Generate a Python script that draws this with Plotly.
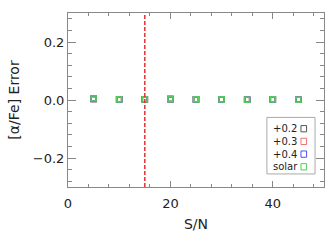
import plotly.graph_objects as go

sn = [5, 10, 15, 20, 25, 30, 35, 40, 45]
err_02 = [0.004, 0.002, 0.002, 0.003, 0.002, 0.002, 0.001, 0.002, 0.001]
err_03 = [0.004, 0.002, 0.002, 0.003, 0.002, 0.002, 0.001, 0.002, 0.001]
err_04 = [0.004, 0.002, 0.002, 0.003, 0.002, 0.002, 0.001, 0.002, 0.001]
err_solar = [0.005, 0.002, 0.002, 0.003, 0.002, 0.002, 0.001, 0.002, 0.001]
series_names = ["+0.2", "+0.3", "+0.4", "solar"]
series_colors = ["#555555", "#f07070", "#5050ee", "#55cc55"]
sn_limit = 15

FONT = "DejaVu Sans"
fig = go.Figure()
for name, vals, col in zip(series_names, [err_02, err_03, err_04, err_solar], series_colors):
    fig.add_trace(go.Scatter(
        x=sn, y=vals, mode="markers", name=name, showlegend=False,
        marker=dict(symbol="square-open", size=5, color=col,
                    line=dict(color=col, width=1.6))))

fig.add_vline(x=sn_limit, line=dict(color="#e83030", width=1.5, dash="4px,2px"))

# legend drawn as box with labels and swatches
lx0, lx1, ly0, ly1 = 0.777, 0.965, 0.075, 0.40
fig.add_shape(type="rect", xref="paper", yref="paper", x0=lx0, x1=lx1, y0=ly0, y1=ly1,
              line=dict(color="#aaaaaa", width=1), fillcolor="white", layer="above")
row_h = 0.073
for i, (name, col) in enumerate(zip(series_names, series_colors)):
    yc = ly1 - 0.065 - row_h * i
    fig.add_annotation(xref="paper", yref="paper", x=lx0 + 0.015, y=yc, text=name,
                       showarrow=False, xanchor="left", yanchor="middle",
                       font=dict(family=FONT, size=10, color="#222222"))
    fig.add_shape(type="rect", xref="paper", yref="paper",
                  x0=0.91, x1=0.932, y0=yc - 0.018, y1=yc + 0.018,
                  line=dict(color=col, width=1), layer="above")

axis_common = dict(showline=True, linecolor="#888888", linewidth=1, mirror="ticks",
                   ticks="inside", tickcolor="#888888", showgrid=False, zeroline=False,
                   automargin=False,
                   tickfont=dict(family=FONT, size=13, color="#222222"))
fig.update_xaxes(range=[0, 50], tick0=0, dtick=20, ticklen=6, ticklabelstandoff=4,
                 minor=dict(dtick=4, ticklen=3, ticks="inside", tickcolor="#888888"),
                 title=dict(text="S/N", font=dict(family=FONT, size=14, color="#222222"), standoff=9),
                 **axis_common)
fig.update_yaxes(range=[-0.3, 0.3], tick0=0, dtick=0.2, tickformat=".1f", ticklen=8,
                 minor=dict(dtick=0.04, ticklen=4, ticks="inside", tickcolor="#888888"),
                 title=dict(text="[α/Fe] Error", font=dict(family=FONT, size=14, color="#222222"), standoff=9),
                 **axis_common)
fig.update_layout(width=332, height=242, margin=dict(l=68, r=8, t=13, b=55),
                  plot_bgcolor="white", paper_bgcolor="white")
fig.write_html("out.html", config={"displayModeBar": False},
               post_script="document.body.style.margin='0';")
